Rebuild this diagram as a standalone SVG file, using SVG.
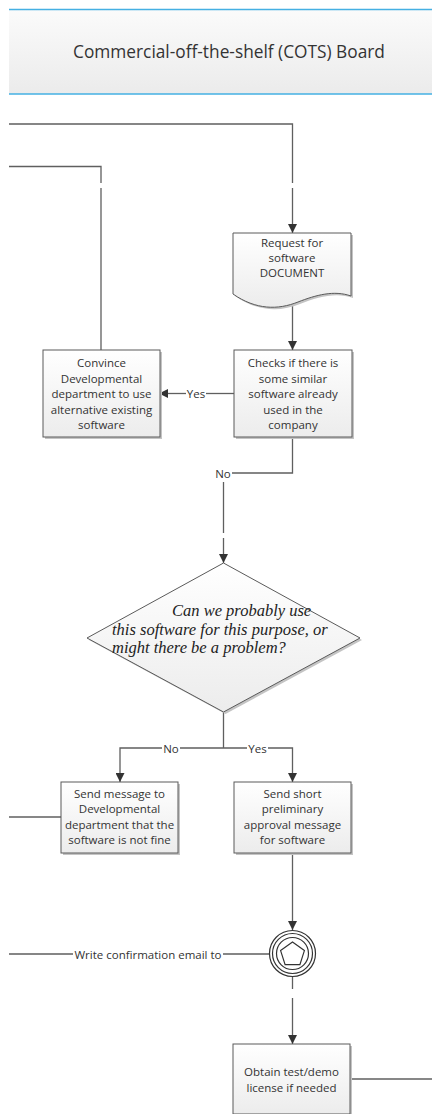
<svg xmlns="http://www.w3.org/2000/svg" width="432" height="1114" viewBox="0 0 432 1114">
  <defs>
    <linearGradient id="hdrFill" x1="0" y1="0" x2="0" y2="1">
      <stop offset="0" stop-color="#fbfbfb"/>
      <stop offset="1" stop-color="#ebebeb"/>
    </linearGradient>
    <linearGradient id="boxFill" x1="0" y1="0" x2="0" y2="1">
      <stop offset="0" stop-color="#ffffff"/>
      <stop offset="1" stop-color="#ececec"/>
    </linearGradient>
    <marker id="arrow" markerUnits="userSpaceOnUse" markerWidth="9" markerHeight="9" refX="9" refY="4.5" orient="auto">
      <path d="M0,0 L9,4.5 L0,9 z" fill="#333"/>
    </marker>
    <style>
      .box { fill: url(#boxFill); stroke: #5a5a5a; stroke-width: 1; }
      .shadow { fill: #c4c4c4; }
      .conn { fill: none; stroke: #5f5f5f; stroke-width: 1.3; }
      .txt { font-family: "Open Sans", "Noto Sans", sans-serif; font-size: 11.5px; fill: #333; text-anchor: middle; }
      .lbl { font-family: "Open Sans", "Noto Sans", sans-serif; font-size: 11.5px; fill: #333; text-anchor: middle; dominant-baseline: central; }
      .q { font-family: "Liberation Serif", serif; font-style: italic; font-size: 16.5px; fill: #222; }
    </style>
  </defs>

  <rect width="432" height="1114" fill="#ffffff"/>

  <!-- lane header -->
  <g id="header">
    <rect x="9" y="9" width="423" height="85" fill="url(#hdrFill)"/>
    <line x1="9" y1="9.5" x2="432" y2="9.5" stroke="#45b0e3" stroke-width="1.6"/>
    <line x1="9" y1="94" x2="432" y2="94" stroke="#45b0e3" stroke-width="1.6"/>
    <text x="229" y="58" font-family="Open Sans, Noto Sans, sans-serif" font-size="17.3" fill="#333" text-anchor="middle">Commercial-off-the-shelf (COTS) Board</text>
  </g>

  <!-- connectors -->
  <g id="connectors">
    <path class="conn" d="M9,124 H292.5 V183"/>
    <path class="conn" d="M292.5,188 V233" marker-end="url(#arrow)"/>
    <path class="conn" d="M9,166.5 H101 V183"/>
    <path class="conn" d="M101,188 V350"/>
    <path class="conn" d="M292.5,303 V350" marker-end="url(#arrow)"/>
    <path class="conn" d="M234,393.5 H206"/>
    <path class="conn" d="M186,393.5 H159" marker-end="url(#arrow)"/>
    <path class="conn" d="M292.5,437 V473 H232"/>
    <path class="conn" d="M223.5,482 V533"/>
    <path class="conn" d="M223.5,538 V563" marker-end="url(#arrow)"/>
    <path class="conn" d="M223.5,712 V748 M180,748 H247"/>
    <path class="conn" d="M162,748 H120 V782" marker-end="url(#arrow)"/>
    <path class="conn" d="M268,748 H292.5 V782" marker-end="url(#arrow)"/>
    <path class="conn" d="M9,817 H61"/>
    <path class="conn" d="M292.5,853 V930" marker-end="url(#arrow)"/>
    <path class="conn" d="M9,954 H73 M223,954 H269"/>
    <path class="conn" d="M292.5,977 V989"/>
    <path class="conn" d="M292.5,998 V1044" marker-end="url(#arrow)"/>
    <path class="conn" d="M350,1079 H432"/>
    <text class="lbl" x="196" y="393.5">Yes</text>
    <text class="lbl" x="223" y="473">No</text>
    <text class="lbl" x="171" y="748">No</text>
    <text class="lbl" x="257.5" y="748">Yes</text>
    <text class="lbl" x="148" y="954">Write confirmation email to</text>
  </g>

  <g id="request-document">
    <path class="shadow" d="M235,235 H353 V298 C336,292 318,297 300,304 C280,312 258,312 235,296 Z"/>
    <path class="box" d="M233,233 H351 V296 C334,290 316,295 298,302 C278,310 256,310 233,294 Z"/>
    <text class="txt" x="292" y="247">Request for</text>
    <text class="txt" x="292" y="261.5">software</text>
    <text class="txt" x="292" y="276.5">DOCUMENT</text>
  </g>

  <g id="check-similar">
    <rect class="shadow" x="236" y="352" width="118" height="87"/>
    <rect class="box" x="234" y="350" width="118" height="87"/>
    <text class="txt" x="293" y="367">Checks if there is</text>
    <text class="txt" x="293" y="382.5">some similar</text>
    <text class="txt" x="293" y="398">software already</text>
    <text class="txt" x="293" y="413.5">used in the</text>
    <text class="txt" x="293" y="429">company</text>
  </g>

  <g id="convince-dev">
    <rect class="shadow" x="45" y="352" width="117" height="87"/>
    <rect class="box" x="43" y="350" width="117" height="87"/>
    <text class="txt" x="101.5" y="367">Convince</text>
    <text class="txt" x="101.5" y="382.5">Developmental</text>
    <text class="txt" x="101.5" y="398">department to use</text>
    <text class="txt" x="101.5" y="413.5">alternative existing</text>
    <text class="txt" x="101.5" y="429">software</text>
  </g>

  <g id="decision">
    <polygon class="shadow" points="225.5,565 362,640 225.5,714 89,640"/>
    <polygon class="box" points="223.5,563 360,638 223.5,712 87,638"/>
    <text class="q" x="172" y="616">Can we probably use</text>
    <text class="q" x="112" y="635">this software for this purpose, or</text>
    <text class="q" x="112" y="653">might there be a problem?</text>
  </g>

  <g id="reject-message">
    <rect class="shadow" x="63" y="784" width="117" height="71"/>
    <rect class="box" x="61" y="782" width="117" height="71"/>
    <text class="txt" x="119.5" y="797.5">Send message to</text>
    <text class="txt" x="119.5" y="813">Developmental</text>
    <text class="txt" x="119.5" y="828.5">department that the</text>
    <text class="txt" x="119.5" y="844">software is not fine</text>
  </g>

  <g id="approval-message">
    <rect class="shadow" x="236" y="784" width="117" height="71"/>
    <rect class="box" x="234" y="782" width="117" height="71"/>
    <text class="txt" x="292.5" y="797.5">Send short</text>
    <text class="txt" x="292.5" y="813">preliminary</text>
    <text class="txt" x="292.5" y="828.5">approval message</text>
    <text class="txt" x="292.5" y="844">for software</text>
  </g>

  <g id="multiple-event" fill="#fff" stroke="#333" stroke-width="1.2">
    <circle cx="292.5" cy="953.5" r="23"/>
    <circle cx="292.5" cy="953.5" r="20"/>
    <circle cx="292.5" cy="953.5" r="16"/>
    <polygon points="292.5,942 304.4,950.6 299.9,964.7 285.1,964.7 280.6,950.6"/>
  </g>

  <g id="obtain-license">
    <rect class="shadow" x="235" y="1046" width="117" height="70"/>
    <rect class="box" x="233" y="1044" width="117" height="70"/>
    <text class="txt" x="291.5" y="1076">Obtain test/demo</text>
    <text class="txt" x="291.5" y="1091.5">license if needed</text>
  </g>
</svg>
